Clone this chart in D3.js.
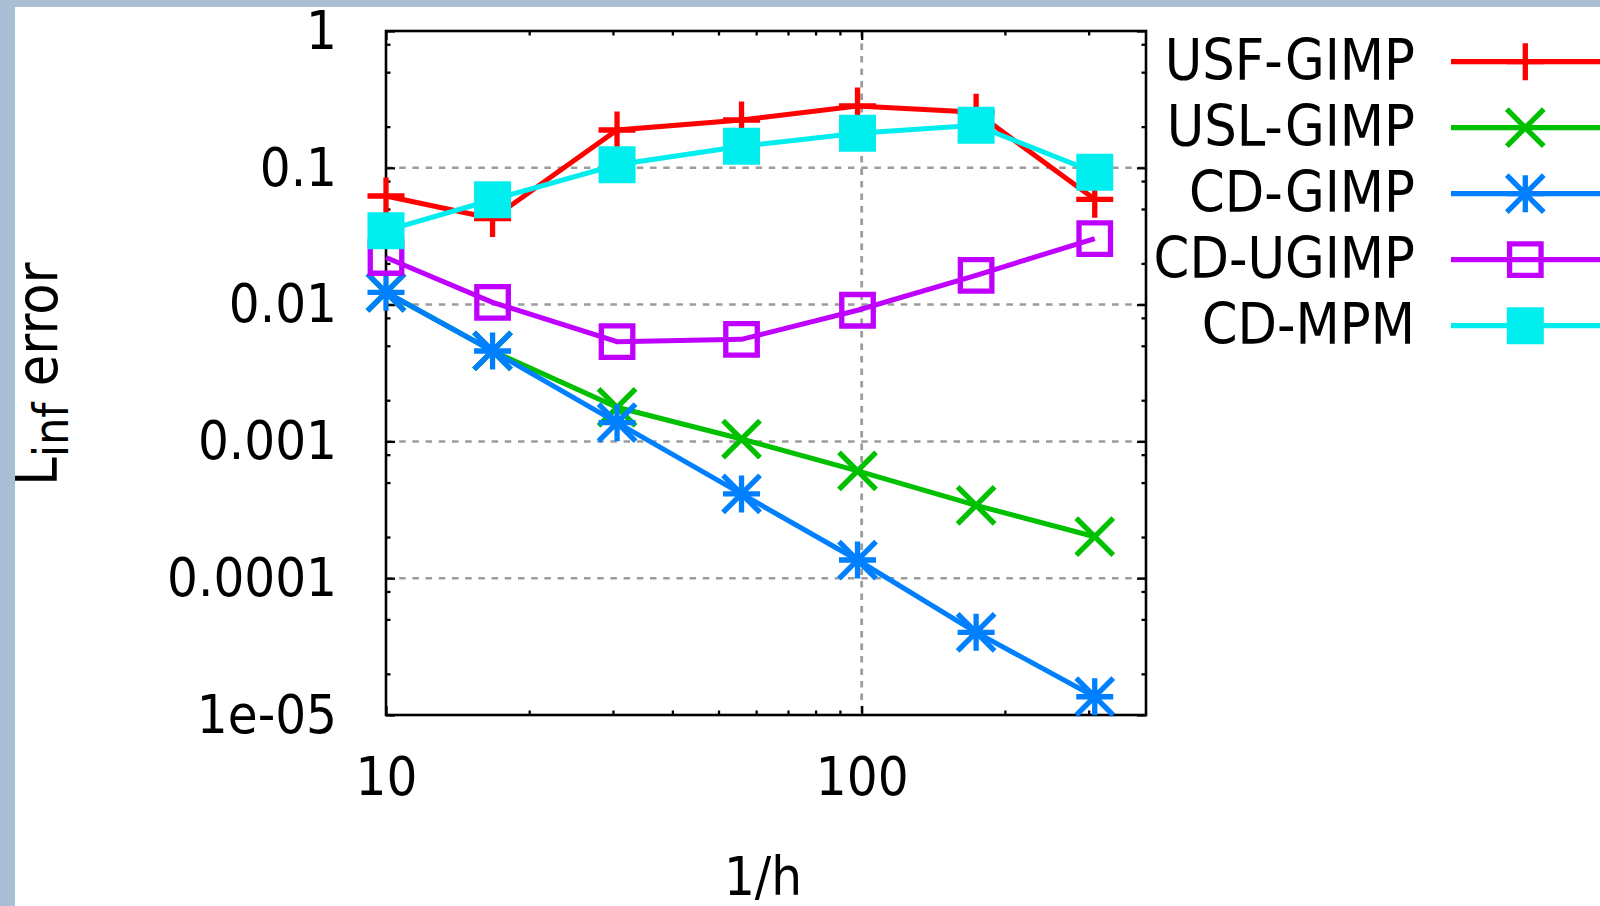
<!doctype html>
<html lang="en">
<head>
	<meta charset="UTF-8">
	<title>Linf error</title>
	<script src="https://d3js.org/d3.v7.min.js"></script>
	<style>
		body { margin:0; background:#fff; }
		text { font-family:"DejaVu Sans Condensed","DejaVu Sans",sans-serif; fill:#000; }
	</style>
</head>
<body>
	<div id="myDiv"></div>
<script>
// data
var invH = [10, 16.75, 30.6, 55.9, 98, 174, 309];
var usfGimp = [0.0622, 0.0426, 0.189, 0.2236, 0.283, 0.2544, 0.0588];
var uslGimp = [0.0123, 0.00458, 0.001776, 0.001041, 0.000608, 0.000341, 0.000201];
var cdGimp = [0.0123, 0.00458, 0.00137, 0.000413, 0.0001358, 0.0000402, 0.0000136];
var cdUgimp = [0.0221, 0.01039, 0.00536, 0.00557, 0.00909, 0.01638, 0.0304];
var cdMpm = [0.0347, 0.0584, 0.1052, 0.1436, 0.1788, 0.2045, 0.0927];
var seriesNames = ["USF-GIMP", "USL-GIMP", "CD-GIMP", "CD-UGIMP", "CD-MPM"];
var seriesColors = ["#ff0000", "#00c000", "#0080ff", "#c000ff", "#00eeee"];
var seriesMarks = ["plus", "cross", "star", "box", "fbox"];

var yTickValues = [1, 0.1, 0.01, 0.001, 0.0001, 0.00001];
var yTickLabels = ["1", "0.1", "0.01", "0.001", "0.0001", "1e-05"];
var xTickValues = [10, 100];
var xTickLabels = ["10", "100"];
var xDomain = [10, 396];
var yDomain = [0.00001, 1];

var allSeries = [usfGimp, uslGimp, cdGimp, cdUgimp, cdMpm];

// svg
var W = 1600, H = 906;
var pLeft = 386, pRight = 1146, pTop = 31, pBottom = 715;

var svg = d3.select("#myDiv").append("svg")
	.attr("width", W)
	.attr("height", H);

// page frame
svg.append("rect").attr("x",0).attr("y",0).attr("width",W).attr("height",7).attr("fill","#aabfd4");
svg.append("rect").attr("x",0).attr("y",0).attr("width",15).attr("height",H).attr("fill","#aabfd4");

var xScale = d3.scaleLog().domain(xDomain).range([pLeft, pRight]);
var yScale = d3.scaleLog().domain(yDomain).range([pBottom, pTop]);

// minor ticks
var xMinor = [];
[10, 100].forEach(function(b){
	for (var k = 2; k <= 9; k++) { if (b*k < xDomain[1]) xMinor.push(b*k); }
});
var yMinor = [];
yTickValues.forEach(function(v){
	if (v < 1) { [2,5,8].forEach(function(k){ yMinor.push(v*k); }); }
});

// grid
svg.append("g").selectAll("line").data([0.1, 0.01, 0.001, 0.0001]).enter().append("line")
	.attr("x1", pLeft).attr("x2", pRight)
	.attr("y1", function(d){ return yScale(d); }).attr("y2", function(d){ return yScale(d); })
	.attr("stroke", "#9c9c9c").attr("stroke-width", 2.5).attr("stroke-dasharray", "6.5,6.7");
svg.append("g").selectAll("line").data([100]).enter().append("line")
	.attr("x1", function(d){ return xScale(d); }).attr("x2", function(d){ return xScale(d); })
	.attr("y1", pTop).attr("y2", pBottom)
	.attr("stroke", "#9c9c9c").attr("stroke-width", 2.8).attr("stroke-dasharray", "6.5,6");

// axes
function styleAxis(g){
	g.select(".domain").remove();
	g.selectAll(".tick line").attr("stroke", "#000").attr("stroke-width", 2.3);
	g.selectAll("text").attr("font-size", 54).attr("fill", "#000")
		.style("font-family", "DejaVu Sans Condensed, DejaVu Sans");
}

svg.append("g").attr("transform", "translate(" + pLeft + ",0)")
	.call(d3.axisLeft(yScale).tickValues(yTickValues).tickSize(-9).tickPadding(49)
		.tickFormat(function(d, i){ return yTickLabels[i]; }))
	.call(styleAxis);
svg.append("g").attr("transform", "translate(" + pLeft + ",0)")
	.call(d3.axisLeft(yScale).tickValues(yMinor).tickSize(-4.5).tickFormat(""))
	.call(styleAxis);
svg.append("g").attr("transform", "translate(" + pRight + ",0)")
	.call(d3.axisRight(yScale).tickValues(yTickValues).tickSize(-9).tickFormat(""))
	.call(styleAxis);
svg.append("g").attr("transform", "translate(" + pRight + ",0)")
	.call(d3.axisRight(yScale).tickValues(yMinor).tickSize(-4.5).tickFormat(""))
	.call(styleAxis);

svg.append("g").attr("transform", "translate(0," + pBottom + ")")
	.call(d3.axisBottom(xScale).tickValues(xTickValues).tickSize(-9).tickPadding(42)
		.tickFormat(function(d, i){ return xTickLabels[i]; }))
	.call(styleAxis);
svg.append("g").attr("transform", "translate(0," + pBottom + ")")
	.call(d3.axisBottom(xScale).tickValues(xMinor).tickSize(-4.5).tickFormat(""))
	.call(styleAxis);
svg.append("g").attr("transform", "translate(0," + pTop + ")")
	.call(d3.axisTop(xScale).tickValues(xTickValues).tickSize(-9).tickFormat(""))
	.call(styleAxis);
svg.append("g").attr("transform", "translate(0," + pTop + ")")
	.call(d3.axisTop(xScale).tickValues(xMinor).tickSize(-4.5).tickFormat(""))
	.call(styleAxis);

// border
svg.append("rect").attr("x", pLeft).attr("y", pTop)
	.attr("width", pRight-pLeft).attr("height", pBottom-pTop)
	.attr("fill", "none").attr("stroke", "#000").attr("stroke-width", 2.6);

// marker shapes
var ms = 18.5;
function markPath(type){
	var s = ms;
	if (type == "plus") return "M" + (-s) + ",0H" + s + "M0," + (-s) + "V" + s;
	if (type == "cross") return "M" + (-s) + "," + (-s) + "L" + s + "," + s + "M" + (-s) + "," + s + "L" + s + "," + (-s);
	if (type == "star") return markPath("plus") + markPath("cross");
	if (type == "box") { var b = s - 2.75; return "M" + (-b) + "," + (-b) + "H" + b + "V" + b + "H" + (-b) + "Z"; }
	return "M" + (-s) + "," + (-s) + "H" + s + "V" + s + "H" + (-s) + "Z";
}
function drawMark(sel, type, color){
	sel.attr("d", markPath(type))
		.attr("fill", type == "fbox" ? color : "none")
		.attr("stroke", type == "fbox" ? "none" : color)
		.attr("stroke-width", 5.3);
}

var line = d3.line()
	.x(function(d){ return xScale(d[0]); })
	.y(function(d){ return yScale(d[1]); });

allSeries.forEach(function(vals, si){
	var pts = invH.map(function(x, i){ return [x, vals[i]]; });
	var g = svg.append("g");
	g.append("path").datum(pts)
		.attr("d", line)
		.attr("fill", "none")
		.attr("stroke", seriesColors[si])
		.attr("stroke-width", 5);
	g.selectAll("path.mk").data(pts).enter().append("path")
		.attr("class", "mk")
		.attr("transform", function(d){ return "translate(" + xScale(d[0]) + "," + yScale(d[1]) + ")"; })
		.call(drawMark, seriesMarks[si], seriesColors[si]);
});

// legend
var legY0 = 61.7, legStep = 66;
seriesNames.forEach(function(name, i){
	var yy = legY0 + i*legStep;
	var g = svg.append("g");
	g.append("text").attr("x", 1415).attr("y", yy + 18.5)
		.attr("text-anchor", "end").attr("font-size", 57).text(name);
	g.append("line").attr("x1", 1451).attr("x2", 1600).attr("y1", yy).attr("y2", yy)
		.attr("stroke", seriesColors[i]).attr("stroke-width", 5.3);
	g.append("path").attr("transform", "translate(1525.3," + yy + ")")
		.call(drawMark, seriesMarks[i], seriesColors[i]);
});

// axis titles
svg.append("text").attr("x", 763).attr("y", 895)
	.attr("text-anchor", "middle").attr("font-size", 54).text("1/h");

var yt = svg.append("text")
	.attr("transform", "translate(57,374) rotate(-90)")
	.attr("text-anchor", "middle").attr("font-size", 57);
yt.append("tspan").text("L");
yt.append("tspan").attr("font-size", 48).attr("dy", 11).text("inf");
yt.append("tspan").attr("dy", -11).text(" error");
</script>
</body>
</html>
